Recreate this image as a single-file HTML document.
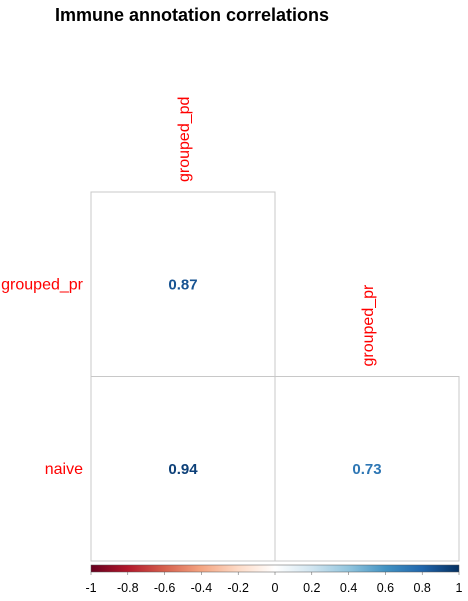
<!DOCTYPE html>
<html><head><meta charset="utf-8"><style>body{margin:0;background:#fff}svg{display:block}</style></head>
<body>
<svg id="chart" width="468" height="601" xmlns="http://www.w3.org/2000/svg" font-family="Liberation Sans, sans-serif">
<defs><linearGradient id="rdbu" x1="0" x2="1" y1="0" y2="0">
<stop offset="0" stop-color="#67001f"/><stop offset="0.1" stop-color="#b2182b"/><stop offset="0.2" stop-color="#d6604d"/><stop offset="0.3" stop-color="#f4a582"/><stop offset="0.4" stop-color="#fddbc7"/><stop offset="0.5" stop-color="#ffffff"/><stop offset="0.6" stop-color="#d1e5f0"/><stop offset="0.7" stop-color="#92c5de"/><stop offset="0.8" stop-color="#4393c3"/><stop offset="0.9" stop-color="#2166ac"/><stop offset="1" stop-color="#053061"/></linearGradient></defs>
<text x="55" y="21" font-size="18" font-weight="bold" fill="#000">Immune annotation correlations</text>
<g id="cells"></g>
<rect x="91" y="565" width="368" height="7" fill="url(#rdbu)" stroke="#555" stroke-width="0.5"/>
<g id="ticks"></g>
</svg>
<script>
const rowLabels = ["grouped_pr", "naive"];
const colLabels = ["grouped_pd", "grouped_pr"];
const corrValues = [[0.87, null],[0.94, 0.73]];
const tickLabels = ["-1","-0.8","-0.6","-0.4","-0.2","0","0.2","0.4","0.6","0.8","1"];
const ns="http://www.w3.org/2000/svg";
const x0=91,y0=192,cw=184,ch=184.5;
const g=document.getElementById('cells');
function mk(t,a,p){const e=document.createElementNS(ns,t);for(const k in a)e.setAttribute(k,a[k]);p.appendChild(e);return e;}
const stops=[[103,0,31],[178,24,43],[214,96,77],[244,165,130],[253,219,199],[255,255,255],[209,229,240],[146,197,222],[67,147,195],[33,102,172],[5,48,97]];
function col(v){const t=(v+1)/2*10;const i=Math.min(9,Math.floor(t)),f=t-i;const a=stops[i],b=stops[i+1];return `rgb(${a.map((c,j)=>Math.round(c+(b[j]-c)*f)).join(',')})`;}
rowLabels.forEach((r,i)=>{
  const l=mk('text',{x:83,y:y0+ch*i+ch/2+5,'text-anchor':'end','font-size':16,fill:'#f00'},g);
  
  
  l.textContent=r;
  for(let j=0;j<=i;j++){
    const v=corrValues[i][j];
    const rc=mk('rect',{x:x0+cw*j,y:y0+ch*i,width:cw,height:ch,fill:'none',stroke:'#c8c8c8'},g);
    
    
    const t=mk('text',{x:x0+cw*j+cw/2,y:y0+ch*i+ch/2+5,'text-anchor':'middle','font-size':15,'font-weight':'bold',fill:col(v)},g);
    
    
    t.textContent=v.toFixed(2);
  }
});
colLabels.forEach((c,j)=>{
  const cx=x0+cw*j+cw/2+6, by=y0+ch*j-10;
  const t=mk('text',{x:cx,y:by,transform:`rotate(-90 ${cx} ${by})`,'font-size':16,fill:'#f00'},g);
  
  
  t.textContent=c;
});
const tg=document.getElementById('ticks');
tickLabels.forEach((s,k)=>{
  const x=91+368*(parseFloat(s)+1)/2;
  mk('line',{x1:x,x2:x,y1:572,y2:575,stroke:'#555','stroke-width':0.5},tg);
  const t=mk('text',{x:x,y:592,'text-anchor':'middle','font-size':12.5,fill:'#000'},tg);
  
  
  t.textContent=s;
});
</script>
</body></html>
